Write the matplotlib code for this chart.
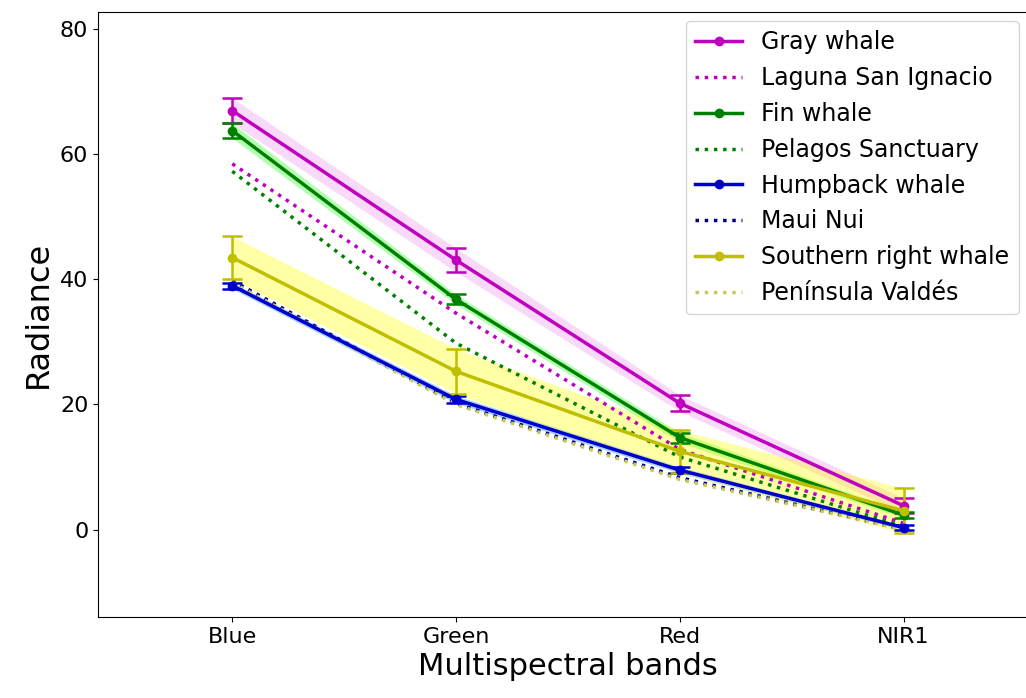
import matplotlib.pyplot as plt
from matplotlib.lines import Line2D
import numpy as np

bands = ['Blue', 'Green', 'Red', 'NIR1']

gray = [67.0, 43.1, 20.2, 3.8]
gray_err = [2.0, 1.9, 1.3, 1.2]
laguna = [58.5, 34.6, 12.8, 1.0]

fin = [63.8, 36.8, 14.7, 2.3]
fin_err = [1.2, 0.8, 0.8, 0.5]
pelagos = [57.3, 29.8, 11.6, 0.5]

humpback = [39.0, 20.8, 9.5, 0.3]
humpback_err = [0.5, 0.6, 0.5, 0.4]
maui = [39.8, 20.2, 8.3, 0.0]

southern = [43.5, 25.3, 12.5, 3.0]
southern_err = [3.4, 3.6, 3.4, 3.6]
valdes = [39.5, 20.0, 8.0, 0.0]


fig = plt.figure(figsize=(10.26, 6.98), dpi=100)
ax = fig.add_axes([0.0955, 0.116, 0.916, 0.867])
x = np.arange(len(bands))

species = [
    ('Gray whale', gray, gray_err, 'm', 'violet', 0.3,
     'Laguna San Ignacio', laguna, 'm'),
    ('Fin whale', fin, fin_err, 'g', 'lime', 0.3,
     'Pelagos Sanctuary', pelagos, 'g'),
    ('Humpback whale', humpback, humpback_err, 'mediumblue', 'dodgerblue', 0.4,
     'Maui Nui', maui, 'navy'),
    ('Southern right whale', southern, southern_err, 'y', 'yellow', 0.35,
     'Península Valdés', valdes, '#c8c860'),
]

handles = []
for name, vals, err, col, fcol, alpha, site, svals, scol in species:
    vals = np.array(vals)
    err = np.array(err)
    ax.fill_between(x, vals - err, vals + err, color=fcol, alpha=alpha,
                    linewidth=0, zorder=1)
    ax.errorbar(x, vals, yerr=err, color=col, marker='o', markersize=6,
                linewidth=2.5, elinewidth=1.8, capsize=7, capthick=1.8,
                zorder=3)
    ax.plot(x, svals, color=scol, linestyle=':', linewidth=2.5, zorder=2)
    handles.append(Line2D([], [], color=col, marker='o', markersize=6,
                          linewidth=2.5, label=name))
    handles.append(Line2D([], [], color=scol, linestyle=':', linewidth=2.5,
                          label=site))

ax.set_xticks(x)
ax.set_xticklabels(bands)
ax.set_xlim(-0.6, 3.6)
ax.set_ylim(-14, 82.8)
ax.set_yticks([0, 20, 40, 60, 80])
ax.tick_params(labelsize=16)
ax.set_xlabel('Multispectral bands', fontsize=22)
ax.set_ylabel('Radiance', fontsize=23)

ax.legend(handles=handles, loc='upper right', fontsize=17,
          bbox_to_anchor=(0.993, 0.97), bbox_transform=fig.transFigure,
          borderaxespad=0, handlelength=2.0, labelspacing=0.5)

fig.savefig('out.png', dpi=100)
